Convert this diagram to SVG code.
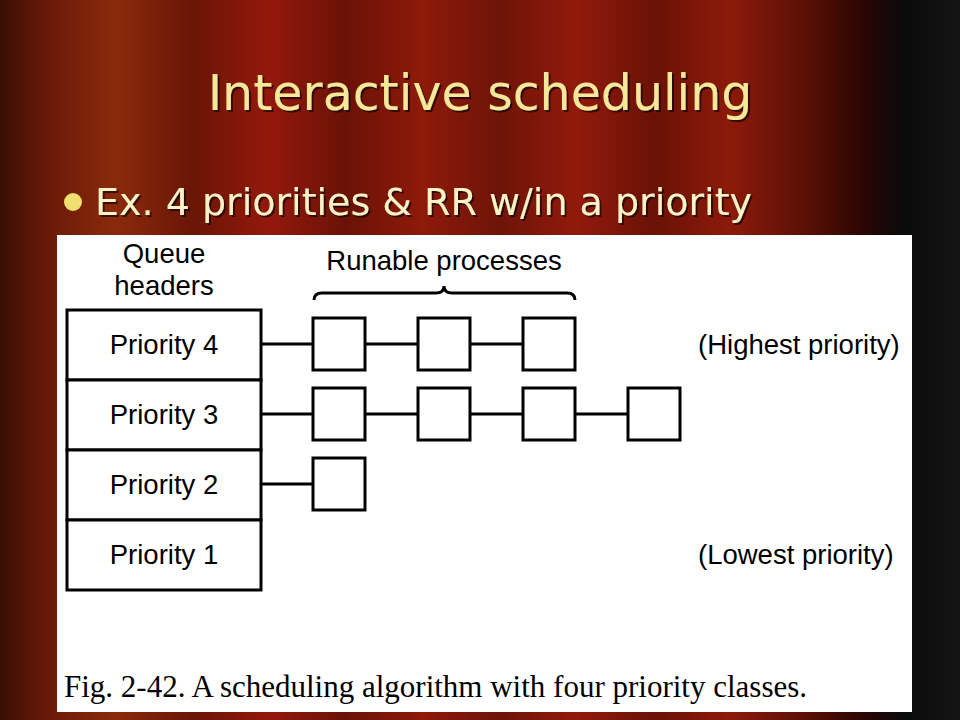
<svg xmlns="http://www.w3.org/2000/svg" width="960" height="720" viewBox="0 0 960 720">
<defs>
<linearGradient id="bg" x1="0" y1="0" x2="1" y2="0">
<stop offset="0" stop-color="#3a0e04"/>
<stop offset="0.05" stop-color="#6a1a08"/>
<stop offset="0.12" stop-color="#8a2a0c"/>
<stop offset="0.2" stop-color="#6a1606"/>
<stop offset="0.28" stop-color="#94180c"/>
<stop offset="0.36" stop-color="#6a1206"/>
<stop offset="0.44" stop-color="#8e1a0a"/>
<stop offset="0.52" stop-color="#6e1408"/>
<stop offset="0.6" stop-color="#921a0c"/>
<stop offset="0.68" stop-color="#6a1206"/>
<stop offset="0.76" stop-color="#8c1a0a"/>
<stop offset="0.84" stop-color="#5a1006"/>
<stop offset="0.9" stop-color="#2a0602"/>
<stop offset="0.94" stop-color="#0a0a0a"/>
<stop offset="1" stop-color="#151515"/>
</linearGradient>
<filter id="sh" x="-5%" y="-20%" width="110%" height="140%">
<feDropShadow dx="2" dy="2" stdDeviation="0.5" flood-color="#000" flood-opacity="0.6"/>
</filter>
<style>
.box{fill:#fff;stroke:#000;stroke-width:3}
.ln{stroke:#000;stroke-width:3;fill:none}
.t{font-family:"Liberation Sans",Arial,sans-serif;font-size:27.5px;fill:#000}
</style>
</defs>
<rect width="960" height="720" fill="url(#bg)"/>
<text x="480" y="110" text-anchor="middle" font-family="Tahoma,'DejaVu Sans',sans-serif" font-size="49" fill="#f6e89a" filter="url(#sh)">Interactive scheduling</text>
<circle cx="73" cy="202" r="9" fill="#f0e070"/>
<text x="95" y="215" font-family="Tahoma,'DejaVu Sans',sans-serif" font-size="38" fill="#fbf3c8" filter="url(#sh)">Ex. 4 priorities &amp; RR w/in a priority</text>
<rect x="57" y="235" width="855" height="477" fill="#fff"/>
<g id="headers">
<text class="t" x="164" y="263" text-anchor="middle">Queue</text>
<text class="t" x="164" y="295" text-anchor="middle">headers</text>
<text class="t" x="444" y="270" text-anchor="middle">Runable processes</text>
<path class="ln" stroke-width="1.5" d="M314 300 Q314 293 322 293 L436 293 Q444 293 444 286 Q444 293 452 293 L567 293 Q575 293 575 300"/>
</g>
<g id="p4"><rect class="box" x="67" y="310" width="194" height="70"/><text class="t" x="164" y="354" text-anchor="middle">Priority 4</text></g>
<g id="p3"><rect class="box" x="67" y="380" width="194" height="70"/><text class="t" x="164" y="424" text-anchor="middle">Priority 3</text></g>
<g id="p2"><rect class="box" x="67" y="450" width="194" height="70"/><text class="t" x="164" y="494" text-anchor="middle">Priority 2</text></g>
<g id="p1"><rect class="box" x="67" y="520" width="194" height="70"/><text class="t" x="164" y="564" text-anchor="middle">Priority 1</text></g>
<g id="connectors">
<path class="ln" d="M261 344H313M365 344H418M470 344H523"/>
<path class="ln" d="M261 414H313M365 414H418M470 414H523M575 414H628"/>
<path class="ln" d="M261 484H313"/>
</g>
<g id="procs">
<rect class="box" x="313" y="318" width="52" height="52"/>
<rect class="box" x="418" y="318" width="52" height="52"/>
<rect class="box" x="523" y="318" width="52" height="52"/>
<rect class="box" x="313" y="388" width="52" height="52"/>
<rect class="box" x="418" y="388" width="52" height="52"/>
<rect class="box" x="523" y="388" width="52" height="52"/>
<rect class="box" x="628" y="388" width="52" height="52"/>
<rect class="box" x="313" y="458" width="52" height="52"/>
</g>
<text class="t" x="698" y="354">(Highest priority)</text>
<text class="t" x="698" y="564">(Lowest priority)</text>
<text x="64" y="697" font-family="'Liberation Serif','Times New Roman',serif" font-size="31" fill="#000">Fig. 2-42. A scheduling algorithm with four priority classes.</text>
</svg>
